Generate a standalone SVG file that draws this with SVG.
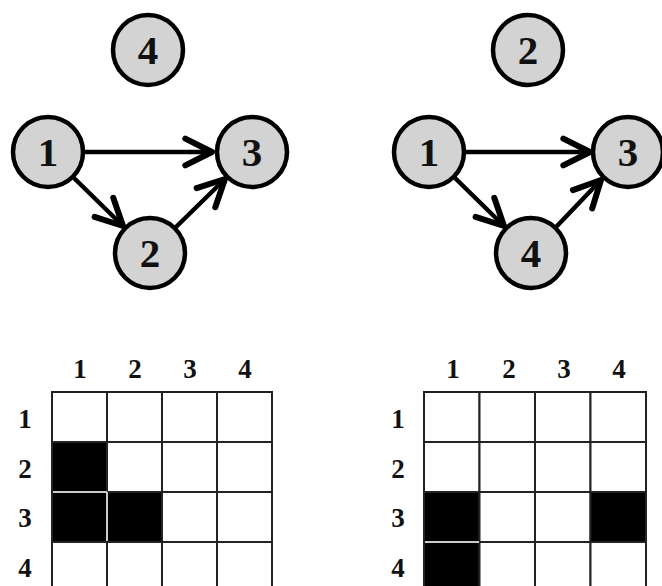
<svg xmlns="http://www.w3.org/2000/svg" width="662" height="586" viewBox="0 0 662 586">
<style>
.node circle{fill:#d3d3d3;stroke:#000;stroke-width:4.5}
.node text{font-family:"Liberation Serif",serif;font-weight:bold;font-size:41px;text-anchor:middle;fill:#111}
.edge{stroke:#000;stroke-width:4.5;stroke-linecap:round;fill:none;marker-end:url(#arr)}
.lbl{font-family:"Liberation Serif",serif;font-weight:bold;font-size:27px;text-anchor:middle;fill:#111}
.cell{fill:#fff;stroke:#222;stroke-width:2}
.on{fill:#000;stroke:#222;stroke-width:2}
.sep{stroke:#ccc;stroke-width:2}
</style>
<defs>
<marker id="arr" markerUnits="userSpaceOnUse" markerWidth="40" markerHeight="40" viewBox="-25 -15 30 30" refX="0" refY="0" orient="auto">
<path d="M-20,-10 L0,0 L-20,10" fill="none" stroke="#000" stroke-width="4.5" stroke-linecap="round" stroke-linejoin="round"/>
</marker>
</defs>
<g id="connectors">
<line class="edge" x1="85" y1="152" x2="212" y2="152"/>
<line class="edge" x1="74" y1="178" x2="123" y2="226"/>
<line class="edge" x1="176" y1="227" x2="225" y2="179"/>
<line class="edge" x1="466" y1="152" x2="590" y2="152"/>
<line class="edge" x1="455" y1="178" x2="504" y2="226"/>
<line class="edge" x1="557" y1="226" x2="601" y2="180"/>
</g>
<g id="L4" class="node"><circle cx="148" cy="50" r="35"/><text x="148" y="64">4</text></g>
<g id="L1" class="node"><circle cx="48" cy="152" r="35"/><text x="48" y="166">1</text></g>
<g id="L3" class="node"><circle cx="252" cy="152" r="35"/><text x="252" y="166">3</text></g>
<g id="L2" class="node"><circle cx="150" cy="253" r="35"/><text x="150" y="267">2</text></g>
<g id="R2" class="node"><circle cx="528" cy="50" r="35"/><text x="528" y="64">2</text></g>
<g id="R1" class="node"><circle cx="429" cy="152" r="35"/><text x="429" y="166">1</text></g>
<g id="R3" class="node"><circle cx="628" cy="152" r="35"/><text x="628" y="166">3</text></g>
<g id="R4" class="node"><circle cx="531" cy="253" r="35"/><text x="531" y="267">4</text></g>
<g id="matrixL">
<text class="lbl" x="80" y="378">1</text><text class="lbl" x="135" y="378">2</text><text class="lbl" x="190" y="378">3</text><text class="lbl" x="245" y="378">4</text>
<text class="lbl" x="25" y="428">1</text><text class="lbl" x="25" y="478">2</text><text class="lbl" x="25" y="527">3</text><text class="lbl" x="25" y="577">4</text>
<rect class="cell" x="52" y="392" width="55" height="50"/><rect class="cell" x="107" y="392" width="55" height="50"/><rect class="cell" x="162" y="392" width="55" height="50"/><rect class="cell" x="217" y="392" width="55" height="50"/>
<rect class="on" x="52" y="442" width="55" height="50"/><rect class="cell" x="107" y="442" width="55" height="50"/><rect class="cell" x="162" y="442" width="55" height="50"/><rect class="cell" x="217" y="442" width="55" height="50"/>
<rect class="on" x="52" y="492" width="55" height="50"/><rect class="on" x="107" y="492" width="55" height="50"/><rect class="cell" x="162" y="492" width="55" height="50"/><rect class="cell" x="217" y="492" width="55" height="50"/>
<rect class="cell" x="52" y="542" width="55" height="50"/><rect class="cell" x="107" y="542" width="55" height="50"/><rect class="cell" x="162" y="542" width="55" height="50"/><rect class="cell" x="217" y="542" width="55" height="50"/>
<line class="sep" x1="53" y1="492" x2="107" y2="492"/><line class="sep" x1="107" y1="492" x2="107" y2="541"/>
</g>
<g id="matrixR">
<text class="lbl" x="453" y="378">1</text><text class="lbl" x="509" y="378">2</text><text class="lbl" x="564" y="378">3</text><text class="lbl" x="619" y="378">4</text>
<text class="lbl" x="398" y="428">1</text><text class="lbl" x="398" y="478">2</text><text class="lbl" x="398" y="527">3</text><text class="lbl" x="398" y="577">4</text>
<rect class="cell" x="424" y="392" width="55.5" height="50"/><rect class="cell" x="479.5" y="392" width="55.5" height="50"/><rect class="cell" x="535" y="392" width="55.5" height="50"/><rect class="cell" x="590.5" y="392" width="55.5" height="50"/>
<rect class="cell" x="424" y="442" width="55.5" height="50"/><rect class="cell" x="479.5" y="442" width="55.5" height="50"/><rect class="cell" x="535" y="442" width="55.5" height="50"/><rect class="cell" x="590.5" y="442" width="55.5" height="50"/>
<rect class="on" x="424" y="492" width="55.5" height="50"/><rect class="cell" x="479.5" y="492" width="55.5" height="50"/><rect class="cell" x="535" y="492" width="55.5" height="50"/><rect class="on" x="590.5" y="492" width="55.5" height="50"/>
<rect class="on" x="424" y="542" width="55.5" height="50"/><rect class="cell" x="479.5" y="542" width="55.5" height="50"/><rect class="cell" x="535" y="542" width="55.5" height="50"/><rect class="cell" x="590.5" y="542" width="55.5" height="50"/>
<line class="sep" x1="425" y1="542" x2="479" y2="542"/>
</g>
</svg>
